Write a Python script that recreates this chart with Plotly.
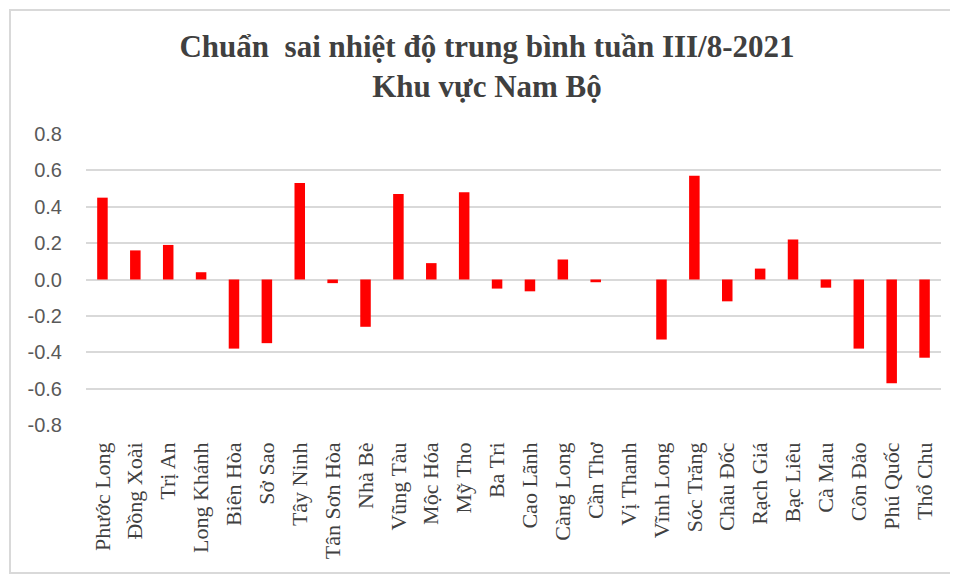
import plotly.graph_objects as go

stations = ["Phước Long", "Đồng Xoài", "Trị An", "Long Khánh", "Biên Hòa", "Sở Sao",
            "Tây Ninh", "Tân Sơn Hòa", "Nhà Bè", "Vũng Tàu", "Mộc Hóa", "Mỹ Tho",
            "Ba Tri", "Cao Lãnh", "Càng Long", "Cần Thơ", "Vị Thanh", "Vĩnh Long",
            "Sóc Trăng", "Châu Đốc", "Rạch Giá", "Bạc Liêu", "Cà Mau", "Côn Đảo",
            "Phú Quốc", "Thổ Chu"]
anomaly = [0.45, 0.16, 0.19, 0.04, -0.38, -0.35,
           0.53, -0.02, -0.26, 0.47, 0.09, 0.48,
           -0.05, -0.065, 0.11, -0.015, 0.0, -0.33,
           0.57, -0.12, 0.06, 0.22, -0.045, -0.38,
           -0.57, -0.43]
y_ticks = [-0.8, -0.6, -0.4, -0.2, 0.0, 0.2, 0.4, 0.6, 0.8]
y_tick_labels = ["-0.8", "-0.6", "-0.4", "-0.2", "0.0", "0.2", "0.4", "0.6", "0.8"]

# the page body adds an 8px offset; work in screen pixels and convert
OFF = 8
SW, SH = 958, 575
W, H = SW - OFF, SH - OFF
PL, PR, PT, PB = 86, 941, 134, 425  # plot area in screen pixels
L, R, T, B = PL - OFF, SW - PR, PT - OFF, SH - PB
pw, ph = PR - PL, PB - PT

def px_x(p):
    return (p - PL) / pw

def px_y(p):
    return (PB - p) / ph

fig = go.Figure(go.Bar(
    x=stations, y=anomaly,
    marker=dict(color="#FF0000", line=dict(width=0)),
    width=0.32,
))

fig.update_layout(
    width=W, height=H,
    margin=dict(l=L, r=R, t=T, b=B, autoexpand=False),
    paper_bgcolor="white", plot_bgcolor="white",
    showlegend=False,
    title=dict(
        text="<b>Chuẩn&nbsp; sai nhiệt độ trung bình tuần III/8-2021<br>Khu vực Nam Bộ</b>",
        x=px_x(487), xref="paper", xanchor="center",
        y=1 - (57 - OFF) / H, yref="container", yanchor="middle",
        font=dict(family="Liberation Serif, Times New Roman, serif", size=31, color="#404040"),
    ),
    xaxis=dict(
        tickangle=-90,
        tickfont=dict(family="Liberation Serif, Times New Roman, serif", size=22, color="#404040"),
        showgrid=False, showline=False, ticks="", zeroline=False,
        ticklabelstandoff=12,
    ),
    yaxis=dict(
        range=[-0.8, 0.8],
        tickvals=y_ticks, ticktext=y_tick_labels,
        tickfont=dict(family="Liberation Sans, Arial, sans-serif", size=20, color="#595959"),
        showgrid=True, gridcolor="#D9D9D9", gridwidth=1.5,
        zeroline=True, zerolinecolor="#D9D9D9", zerolinewidth=1.5,
        showline=False, ticks="",
        ticklabelstandoff=23,
    ),
    shapes=[dict(
        type="rect", xref="paper", yref="paper",
        x0=px_x(10), x1=px_x(962), y0=px_y(573), y1=px_y(10),
        line=dict(color="#D9D9D9", width=2), fillcolor="rgba(0,0,0,0)", layer="below",
    )],
)

fig.write_html("out.html")
